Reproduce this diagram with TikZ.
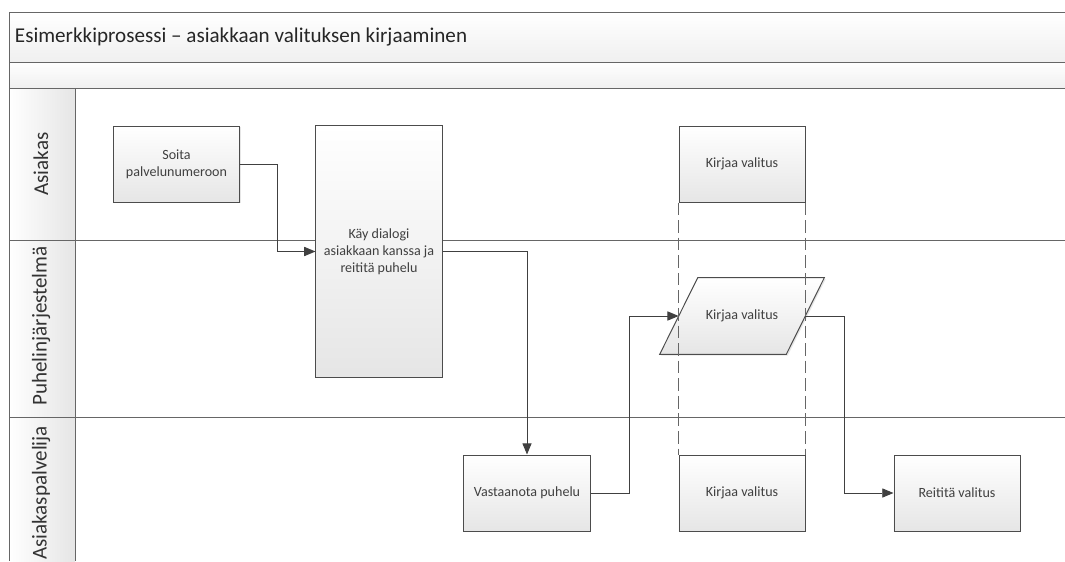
\documentclass[tikz,border=0pt]{standalone}
\usepackage{fontspec}
\setmainfont{Carlito}
\usetikzlibrary{arrows.meta,positioning,shadows,backgrounds}

\begin{document}
\begin{tikzpicture}[x=0.025cm,y=-0.025cm,>={Triangle[length=8pt,width=6.5pt]},
 font=\fontsize{10}{12}\selectfont,
 lane/.style={draw=black!60,line width=0.6pt},
 act/.style={draw=black!70,line width=0.7pt,top color=white,bottom color=black!10,
   drop shadow={opacity=0.2,shadow xshift=1pt,shadow yshift=-1pt},
   align=center,text=black!75,minimum width=3.15cm,minimum height=1.9cm,inner sep=2pt},
 io/.style={align=center,text=black!75,minimum width=3.15cm,minimum height=1.9cm,inner sep=2pt},
 flow/.style={->,draw=black!75,line width=0.7pt},
 lbl/.style={rotate=90,font=\fontsize{15}{18}\selectfont,text=black!80}]
\useasboundingbox (0,0) rectangle (1065,561);
% pool and lanes
\shade[top color=white,bottom color=black!6] (9,12) rectangle (1065,62);
\shade[top color=white,bottom color=black!6] (9,62) rectangle (1065,88);
\shade[left color=white,right color=black!10] (9,88) rectangle (75,561);
\draw[lane] (1065,12) -- (9,12) -- (9,561);
\draw[lane] (9,62) -- (1065,62);
\draw[lane] (9,88) -- (1065,88);
\draw[lane] (75,88) -- (75,561);
\draw[lane] (9,240) -- (1065,240);
\draw[lane] (9,417) -- (1065,417);
\node[anchor=west,font=\fontsize{15}{18}\selectfont,text=black!85] (title) at (10,37) {Esimerkkiprosessi – asiakkaan valituksen kirjaaminen};
\node[lbl] (asiakas) at (41,164) {Asiakas};
\node[lbl] (puhelin) at (41,326) {Puhelinjärjestelmä};
\node[lbl] (palvelija) at (41,493) {Asiakaspalvelija};
% activities
\node[act] (soita) at (176.5,164) {Soita\\palvelunumeroon};
\node[act,minimum height=6.275cm] (kay) at (379,251.5) {Käy dialogi\\asiakkaan kanssa ja\\reititä puhelu};
\node[act] (kirjaaA) at (742,164) {Kirjaa valitus};
\node[io] (kirjaaP) at (742,316) {Kirjaa valitus};
\node[act] (vast) at (527,493) {Vastaanota puhelu};
\node[act] (kirjaaV) at (742,493) {Kirjaa valitus};
\node[act] (reitita) at (957,493) {Reititä valitus};
% parallelogram behind its text
\begin{scope}[on background layer]
\shade[draw=black!70,line width=0.7pt,top color=white,bottom color=black!10,
   drop shadow={opacity=0.2,shadow xshift=1pt,shadow yshift=-1pt}]
  ([xshift=0.475cm]kirjaaP.north west) -- ([xshift=0.475cm]kirjaaP.north east)
  -- ([xshift=-0.475cm]kirjaaP.south east) -- ([xshift=-0.475cm]kirjaaP.south west) -- cycle;
\end{scope}
\draw[lane,dash pattern=on 9pt off 3.5pt] (kirjaaA.south west) -- (kirjaaV.north west);
\draw[lane,dash pattern=on 9pt off 3.5pt] (kirjaaA.south east) -- (kirjaaV.north east);
% flows
\draw[flow] (soita.east) -- ++(37,0) |- (kay.west);
\draw[flow] (kay.east) -| (vast.north);
\draw[flow] (vast.east) -- ++(39,0) |- (kirjaaP.west);
\draw[flow] (kirjaaP.east) -- ++(39,0) |- (reitita.west);
\end{tikzpicture}
\end{document}
